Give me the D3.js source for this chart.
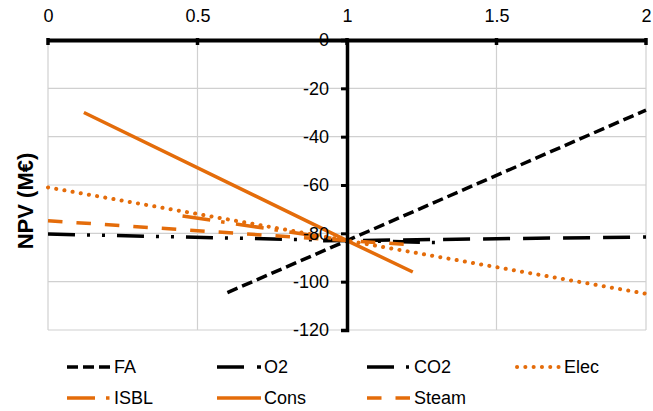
<!DOCTYPE html>
<html><head><meta charset="utf-8">
<script src="https://cdn.jsdelivr.net/npm/d3@7"></script>
<style>
html,body{margin:0;padding:0;background:#fff;}
svg{display:block;font-family:"Liberation Sans",Arial,sans-serif;}
</style></head>
<body><svg id="c" width="653" height="411"></svg>
<script>
const xTicks = [0, 0.5, 1, 1.5, 2];
const yTicks = [0, -20, -40, -60, -80, -100, -120];
const seriesNames = ["FA", "O2", "CO2", "Elec", "ISBL", "Cons", "Steam"];
const faX = [0.6, 1, 2],        faY = [-104.5, -83, -29];
const o2X = [0.92, 1, 2],       o2Y = [-83.1, -83, -81.5];
const co2X = [0, 1, 1.3],       co2Y = [-80.3, -83, -83.8];
const elecX = [0, 1, 2],        elecY = [-61, -83, -105];
const isblX = [0.45, 1],        isblY = [-72.8, -83];
const consX = [0.12, 1, 1.22],  consY = [-30, -83, -96];
const steamX = [0, 1, 1.2],     steamY = [-74.8, -83, -84.6];

const ORANGE = "#E46C0A";
const styles = {
  FA:    {color: "#000", dash: "11,5",            cap: "butt"},
  O2:    {color: "#000", dash: "27,13",           cap: "butt"},
  CO2:   {color: "#000", dash: "27,12,3,12,3,12", cap: "butt"},
  Elec:  {color: ORANGE, dash: "0.1,8.2",         cap: "round", width: 4},
  ISBL:  {color: ORANGE, dash: "28,11,3.5,11.5",  cap: "butt"},
  Cons:  {color: ORANGE, dash: null,              cap: "butt"},
  Steam: {color: ORANGE, dash: "14.5,14",         cap: "butt"}
};
const dataX = {FA: faX, O2: o2X, CO2: co2X, Elec: elecX, ISBL: isblX, Cons: consX, Steam: steamX};
const dataY = {FA: faY, O2: o2Y, CO2: co2Y, Elec: elecY, ISBL: isblY, Cons: consY, Steam: steamY};

const svg = d3.select("#c");
const L = 48, R = 646, T = 40, B = 330;
const x = d3.scaleLinear().domain([0, 2]).range([L, R]);
const y = d3.scaleLinear().domain([0, -120]).range([T, B]);

// gridlines
const grid = svg.append("g").attr("stroke", "#D0D0D0").attr("stroke-width", 1.2);
xTicks.forEach(v => grid.append("line").attr("x1", x(v)).attr("x2", x(v)).attr("y1", T).attr("y2", B));
yTicks.forEach(v => grid.append("line").attr("x1", L).attr("x2", R).attr("y1", y(v)).attr("y2", y(v)));

// series
const line = d3.line().x(d => x(d[0])).y(d => y(d[1]));
const plot = svg.append("g");
seriesNames.forEach(n => {
  const s = styles[n];
  const pts = dataX[n].map((v, i) => [v, dataY[n][i]]);
  plot.append("path").attr("d", line(pts)).attr("fill", "none")
    .attr("stroke", s.color).attr("stroke-width", s.width || 3.5)
    .attr("stroke-linecap", s.cap).attr("stroke-dasharray", s.dash);
});

// x axis at top (y=0)
const xAxis = svg.append("g").attr("transform", `translate(0,${y(0)})`)
  .call(d3.axisTop(x).tickValues(xTicks).tickFormat(d3.format("")).tickSize(0).tickPadding(18));
xAxis.select(".domain").attr("stroke", "#000").attr("stroke-width", 4);
xAxis.selectAll("text").attr("font-size", 18).attr("fill", "#000");
xTicks.forEach(v => svg.append("line").attr("x1", x(v)).attr("x2", x(v))
  .attr("y1", y(0) - 2).attr("y2", y(0) + 5).attr("stroke", "#000").attr("stroke-width", 3.5));

// y axis at x=1
const yAxis = svg.append("g").attr("transform", `translate(${x(1)},0)`)
  .call(d3.axisLeft(y).tickValues(yTicks).tickSize(6).tickPadding(12));
yAxis.select(".domain").attr("stroke", "#000").attr("stroke-width", 3.5);
yAxis.selectAll(".tick line").attr("stroke", "#000").attr("stroke-width", 3);
yAxis.selectAll("text").attr("font-size", 18).attr("fill", "#000")
  .text(d => d === 0 ? "0" : d3.format("")(d).replace("−", "-"));

// y title
svg.append("text").attr("transform", "translate(25,201) rotate(-90)")
  .attr("text-anchor", "middle").attr("dominant-baseline", "central")
  .attr("font-size", 22).attr("font-weight", "bold").text("NPV (M€)");

// legend
const legCols = [67, 217, 367, 517];
const legRows = [367, 398];
seriesNames.forEach((n, i) => {
  const s = styles[n];
  const lx = legCols[i % 4], ly = legRows[Math.floor(i / 4)];
  const g = svg.append("g");
  g.append("line").attr("x1", lx).attr("x2", lx + 44).attr("y1", ly).attr("y2", ly)
    .attr("stroke", s.color).attr("stroke-width", s.width || 3.5)
    .attr("stroke-linecap", s.cap).attr("stroke-dasharray", s.dash);
  g.append("text").attr("x", lx + 47).attr("y", ly).attr("dominant-baseline", "central")
    .attr("font-size", 18).attr("fill", "#000").text(n);
});
</script></body></html>
